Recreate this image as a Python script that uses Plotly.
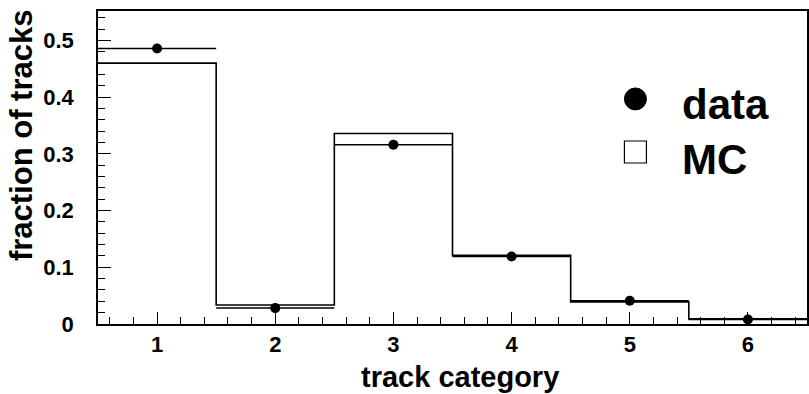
import plotly.graph_objects as go

categories = [1, 2, 3, 4, 5, 6]
data_values = [0.486, 0.028, 0.316, 0.119, 0.041, 0.008]
mc_values = [0.460, 0.0335, 0.336, 0.121, 0.039, 0.009]
half_width = [0.5, 0.5, 0.5, 0.5, 0.5, 0.5]
y_ticks = [0, 0.1, 0.2, 0.3, 0.4, 0.5]
y_tick_labels = ["0", "0.1", "0.2", "0.3", "0.4", "0.5"]

FONT = "Liberation Sans, Arial, Helvetica, sans-serif"

# MC histogram step built from bin edges
edges = [c - 0.5 for c in categories] + [categories[-1] + 0.5]
mc_step = mc_values + [mc_values[-1]]

fig = go.Figure()
fig.add_trace(go.Scatter(
    x=edges, y=mc_step, mode="lines", line=dict(color="black", width=1.6, shape="hv"),
    showlegend=False, hoverinfo="skip"))
fig.add_trace(go.Scatter(
    x=categories, y=data_values, mode="markers",
    marker=dict(color="black", size=10, symbol="circle"),
    error_x=dict(type="data", array=half_width, color="black", thickness=1.5, width=0),
    showlegend=False))

fig.update_layout(
    width=809, height=394,
    margin=dict(l=98, r=0, t=11, b=70),
    paper_bgcolor="white", plot_bgcolor="white",
    font=dict(family=FONT, color="black"),
    xaxis=dict(range=[0.5, 6.5], tickmode="array", tickvals=categories,
               ticktext=[str(c) for c in categories],
               ticks="inside", ticklen=12, tickwidth=1.2, tickcolor="black",
               showline=True, linecolor="black", linewidth=1.5, mirror=True,
               showgrid=False, zeroline=False,
               tickfont=dict(size=22, family=FONT, weight="bold"),
               ticklabelstandoff=0,
               minor=dict(dtick=0.2, tick0=0, ticks="inside", ticklen=7,
                          tickwidth=1, tickcolor="black", showgrid=False)),
    yaxis=dict(range=[0, 0.552], tickmode="array", tickvals=y_ticks, ticktext=y_tick_labels,
               ticks="inside", ticklen=13, tickwidth=1.2, tickcolor="black",
               showline=True, linecolor="black", linewidth=1.5, mirror=True,
               showgrid=False, zeroline=False,
               tickfont=dict(size=22, family=FONT, weight="bold"),
               ticklabelstandoff=18,
               minor=dict(dtick=0.02, tick0=0, ticks="inside", ticklen=7,
                          tickwidth=1, tickcolor="black", showgrid=False)),
)

fig.add_annotation(text="track category", xref="paper", yref="paper",
                   x=0.51, y=-0.17, xanchor="center", yanchor="middle", showarrow=False,
                   font=dict(size=29, family=FONT, weight="bold"))
fig.add_annotation(text="fraction of tracks", xref="paper", yref="paper",
                   x=-0.107, y=0.604, xanchor="center", yanchor="middle", showarrow=False,
                   textangle=-90, font=dict(size=31, family=FONT, weight="bold"))

# legend (drawn manually)
fig.add_shape(type="circle", xref="paper", yref="paper", xsizemode="pixel", ysizemode="pixel",
              xanchor=0.758, yanchor=0.719, x0=-11, x1=11, y0=-11, y1=11,
              fillcolor="black", line=dict(color="black", width=1))
fig.add_shape(type="rect", xref="paper", yref="paper", xsizemode="pixel", ysizemode="pixel",
              xanchor=0.758, yanchor=0.5495, x0=-11, x1=11, y0=-11, y1=11,
              fillcolor="white", line=dict(color="black", width=1.2))
fig.add_annotation(text="data", xref="paper", yref="paper", x=0.821, y=0.70,
                   xanchor="left", yanchor="middle", showarrow=False,
                   font=dict(size=42, family=FONT, weight="bold"))
fig.add_annotation(text="MC", xref="paper", yref="paper", x=0.821, y=0.527,
                   xanchor="left", yanchor="middle", showarrow=False,
                   font=dict(size=42, family=FONT, weight="bold"))

fig.write_html("out.html", config={"displayModeBar": False},
               post_script="document.body.style.margin='0px';document.body.style.overflow='hidden';")
